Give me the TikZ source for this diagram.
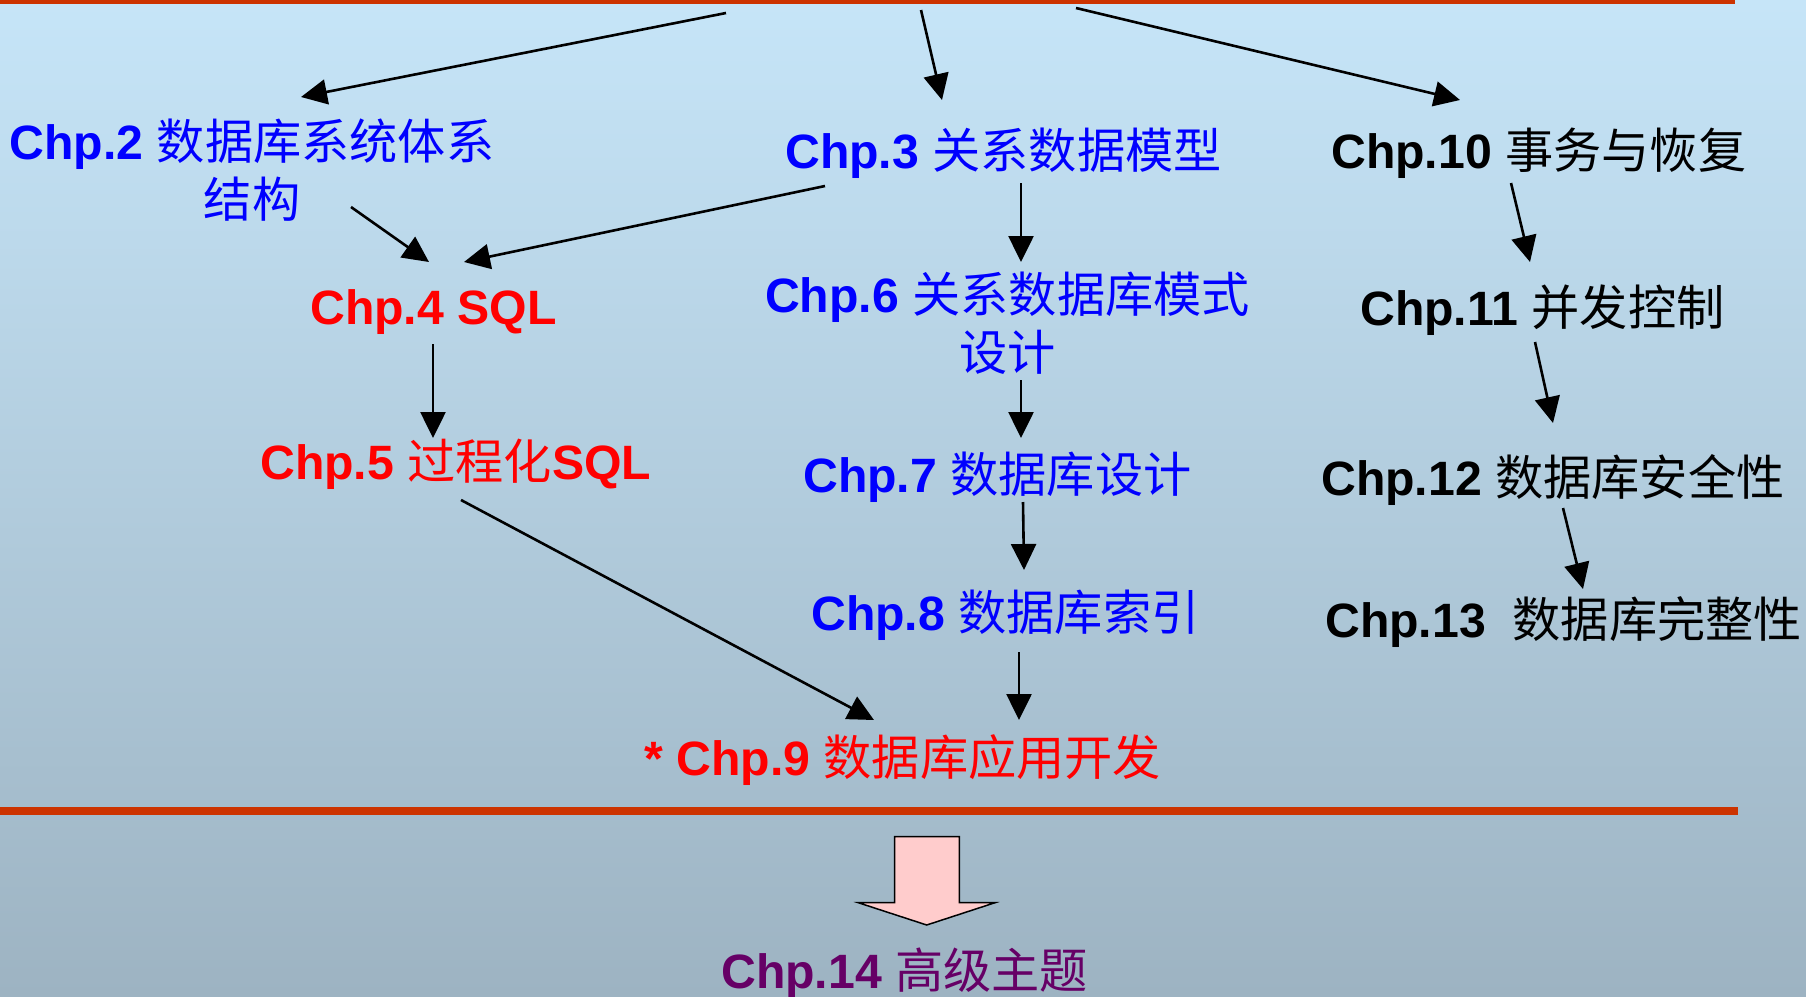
\documentclass[tikz,border=0pt]{standalone}
\usepackage{fontspec}
\setmainfont{Liberation Sans}
\newfontfamily\cjkfont{Noto Sans CJK SC}
\usetikzlibrary{arrows.meta}
\newcommand\zh[1]{{\cjkfont\mdseries #1}}
\definecolor{bgtop}{HTML}{C6E5F8}
\definecolor{bgbot}{HTML}{9DB3C2}
\definecolor{rulecol}{HTML}{CC3300}
\definecolor{chblue}{HTML}{0000FF}
\definecolor{chred}{HTML}{FF0000}
\definecolor{chpurple}{HTML}{660066}
\definecolor{blockpink}{HTML}{FFCCCC}
\begin{document}
\begin{tikzpicture}[x=1pt,y=-1pt,
  chap/.style={inner sep=0pt, font=\fontsize{48.2}{57.5}\selectfont\bfseries},
  blue chap/.style={chap, text=chblue},
  red chap/.style={chap, text=chred},
  black chap/.style={chap, text=black},
  conn/.style={line width=2.6pt, -{Triangle[length=26pt,width=25pt]}},
]
\useasboundingbox (0,0) rectangle (1806,996);
% background and horizontal rules
\shade[top color=bgtop, bottom color=bgbot] (0,0) rectangle (1806,996);
\fill[rulecol] (0,0) rectangle (1735,4);
\fill[rulecol] (0,807) rectangle (1738,815);

% chapters (two-line nodes are anchored at the baseline of their last line)
\node[blue chap, align=center, anchor=base] (ch2) at (252,217) {Chp.2 \zh{数据库系统体系}\\\zh{结构}};
\node[blue chap, anchor=base west] (ch3) at (785,168) {Chp.3 \zh{关系数据模型}};
\node[black chap, anchor=base west] (ch10) at (1331,168) {Chp.10 \zh{事务与恢复}};
\node[red chap, anchor=base west] (ch4) at (310,324) {Chp.4 SQL};
\node[red chap, anchor=base west] (ch5) at (260,479) {Chp.5 \zh{过程化}SQL};
\node[blue chap, align=center, anchor=base] (ch6) at (1007.5,370) {Chp.6 \zh{关系数据库模式}\\\zh{设计}};
\node[blue chap, anchor=base west] (ch7) at (803,492) {Chp.7 \zh{数据库设计}};
\node[blue chap, anchor=base west] (ch8) at (811,630) {Chp.8 \zh{数据库索引}};
\node[red chap, anchor=base west] (ch9) at (644,775) {* Chp.9 \zh{数据库应用开发}};
\node[black chap, anchor=base west] (ch11) at (1360,325) {Chp.11 \zh{并发控制}};
\node[black chap, anchor=base west] (ch12) at (1321,495) {Chp.12 \zh{数据库安全性}};
\node[black chap, anchor=base west] (ch13) at (1325,637) {Chp.13\ \ \zh{数据库完整性}};
\node[chap, text=chpurple, anchor=base west] (ch14) at (721,988) {Chp.14 \zh{高级主题}};

% sources at the top rule
\coordinate (src1) at (726,13);
\coordinate (src2) at (921,10);
\coordinate (src3) at (1076,8);

% connectors
\draw[conn] (src1) -- ([shift={(49,-120)}]ch2.base);
\draw[conn] (src2) -- ([shift={(157,-68)}]ch3.base west);
\draw[conn] (src3) -- ([shift={(129,-68)}]ch10.base west);
\draw[conn] ([shift={(99,-10)}]ch2.base) -- ([shift={(119,-62)}]ch4.base west);
\draw[conn] ([shift={(40,18)}]ch3.base west) -- ([shift={(154,-62)}]ch4.base west);
\draw[conn] ([shift={(236,15)}]ch3.base west) -- ([shift={(13.5,-108)}]ch6.base);
\draw[conn] ([shift={(180,15)}]ch10.base west) -- ([shift={(170,-63)}]ch11.base west);
\draw[conn] ([shift={(123,20)}]ch4.base west) -- ([shift={(173,-41)}]ch5.base west);
\draw[conn] ([shift={(13.5,10)}]ch6.base) -- ([shift={(218,-54)}]ch7.base west);
\draw[conn] ([shift={(220,10)}]ch7.base west) -- ([shift={(213,-60)}]ch8.base west);
\draw[conn] ([shift={(208,22)}]ch8.base west) -- ([shift={(375,-55)}]ch9.base west);
\draw[conn] ([shift={(201,21)}]ch5.base west) -- ([shift={(230,-55)}]ch9.base west);
\draw[conn] ([shift={(175,17)}]ch11.base west) -- ([shift={(232,-72)}]ch12.base west);
\draw[conn] ([shift={(242,13)}]ch12.base west) -- ([shift={(258,-48)}]ch13.base west);

% block arrow towards the advanced topics
\draw[line width=1.5pt, fill=blockpink, line join=miter]
  (894.7,836.7) -- (894.7,902.7) -- (858.3,902.7) -- (926.7,925)
  -- (995,902.7) -- (959.3,902.7) -- (959.3,836.7) -- cycle;
\end{tikzpicture}
\end{document}
